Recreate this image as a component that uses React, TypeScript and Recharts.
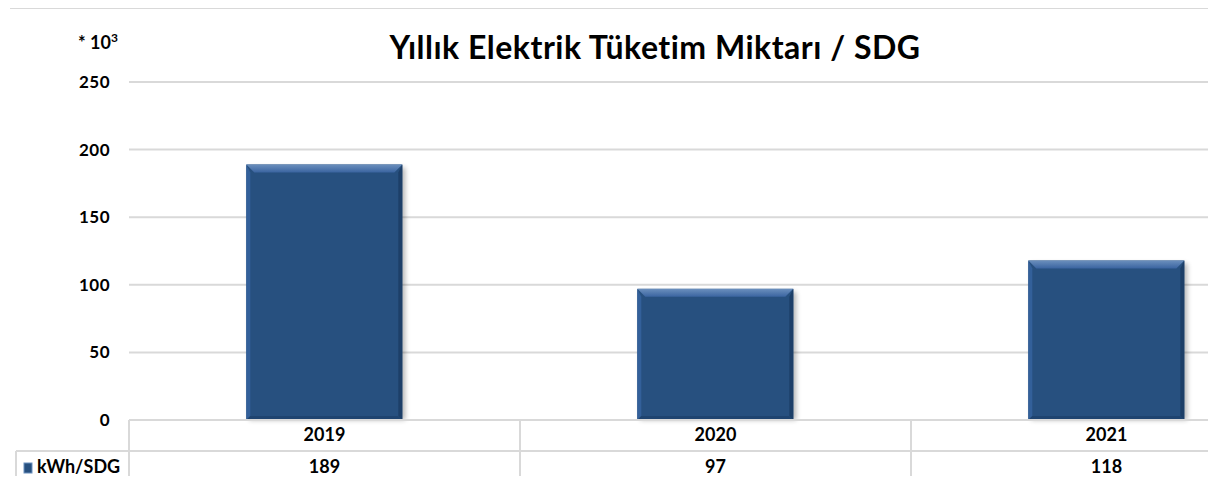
import React from 'react';
import { BarChart, Bar, XAxis, YAxis, CartesianGrid } from 'recharts';

// yearly electricity use, in thousands of kWh per SDG
const years = ['2019', '2020', '2021'];
const kwhPerSdg = [189, 97, 118];
const yTicks = [0, 50, 100, 150, 200, 250];
const seriesName = 'kWh/SDG';
const title = 'Yıllık Elektrik Tüketim Miktarı / SDG';

const data = years.map((year, i) => ({ year, value: kwhPerSdg[i] }));

const LINE = '#d9d9d9';
const FONT = 'Lato, "Open Sans", sans-serif';

const BevelBar = (props: any) => {
  const { x, y, width: w, height: h } = props;
  if (!h || h <= 0) return null;
  const b = Math.min(8, h / 4);
  const s = Math.min(4, h / 6);
  return (
    <g>
      <defs>
        <filter id="barShadow" x="-10%" y="-10%" width="130%" height="130%">
          <feGaussianBlur stdDeviation="2.5" />
        </filter>
        <linearGradient id="bevelTop" x1="0" y1="0" x2="0" y2="1">
          <stop offset="0%" stopColor="#6b8fbd" />
          <stop offset="100%" stopColor="#3a64a0" />
        </linearGradient>
      </defs>
      <rect x={x + 3} y={y + 3} width={w} height={h - 3} fill="#000" opacity={0.28} filter="url(#barShadow)" />
      <rect x={x} y={y} width={w} height={h} fill="#27507f" />
      <polygon points={`${x},${y} ${x + w},${y} ${x + w - b},${y + b} ${x + b},${y + b}`} fill="url(#bevelTop)" />
      <polygon points={`${x},${y} ${x + s},${y + b} ${x + s},${y + h - s} ${x},${y + h}`} fill="#33609a" />
      <polygon points={`${x + w},${y} ${x + w},${y + h} ${x + w - s},${y + h - s} ${x + w - s},${y + b}`} fill="#1d3f68" />
      <polygon points={`${x},${y + h} ${x + s},${y + h - s} ${x + w - s},${y + h - s} ${x + w},${y + h}`} fill="#1f4470" />
    </g>
  );
};

const TableTick = (props: any) => {
  const { x, y, payload, index } = props;
  const half = payload && payload.offset ? payload.offset : 195;
  const top = y;
  const mid = top + 31;
  const bottom = top + 61;
  const left = x - half;
  const right = x + half;
  const txt = { fontFamily: FONT, fontSize: 18, fontWeight: 700, fill: '#000', textAnchor: 'middle' as const };
  return (
    <g>
      <line x1={left} y1={top} x2={right} y2={top} stroke={LINE} strokeWidth={2} />
      <line x1={left} y1={mid} x2={right} y2={mid} stroke={LINE} strokeWidth={2} />
      <line x1={left} y1={bottom} x2={right} y2={bottom} stroke={LINE} strokeWidth={2} />
      <line x1={left} y1={top} x2={left} y2={bottom} stroke={LINE} strokeWidth={2} />
      <line x1={right} y1={top} x2={right} y2={bottom} stroke={LINE} strokeWidth={2} />
      <text x={x} y={top + 21} {...txt}>{payload.value}</text>
      <text x={x} y={mid + 22} {...txt}>{kwhPerSdg[index]}</text>
      {index === 0 && (
        <g>
          <line x1={16} y1={mid} x2={left} y2={mid} stroke={LINE} strokeWidth={2} />
          <line x1={16} y1={bottom} x2={left} y2={bottom} stroke={LINE} strokeWidth={2} />
          <line x1={16} y1={mid} x2={16} y2={bottom} stroke={LINE} strokeWidth={2} />
          <rect x={24} y={mid + 12} width={8} height={10} fill="#27507f" stroke="#6b8fbd" strokeWidth={1} />
          <text x={37} y={mid + 22} fontFamily={FONT} fontSize={18} fontWeight={700} fill="#000">{seriesName}</text>
        </g>
      )}
    </g>
  );
};

export default function App() {
  return (
    <div style={{ position: 'relative', width: 1216, height: 484, margin: -8, overflow: 'hidden', background: '#fff', fontFamily: FONT }}>
      <svg width={1216} height={80} style={{ position: 'absolute', left: 0, top: 0 }}>
        <line x1={10} y1={8} x2={1216} y2={8} stroke={LINE} strokeWidth={2} />
        <text x={78} y={49} fontFamily={FONT} fontSize={18} fontWeight={700} fill="#000">
          * 10<tspan fontSize={12} dy={-7}>3</tspan>
        </text>
        <text x={655} y={59} textAnchor="middle" fontFamily={FONT} fontSize={32} fontWeight={700} letterSpacing={0.5} fill="#000">
          {title}
        </text>
      </svg>
      <div style={{ position: 'absolute', left: 0, top: 0 }}>
        <BarChart width={1320} height={484} data={data} margin={{ top: 82, right: 18, left: 0, bottom: 2 }} barCategoryGap="30%">
          <CartesianGrid vertical={false} stroke={LINE} strokeWidth={2} />
          <XAxis
            dataKey="year"
            height={62}
            axisLine={false}
            tickLine={false}
            tickSize={0}
            tickMargin={0}
            interval={0}
            tick={<TableTick />}
          />
          <YAxis
            width={129}
            domain={[0, 250]}
            ticks={yTicks}
            axisLine={false}
            tickLine={false}
            tickSize={0}
            tickMargin={19}
            tick={{ fontFamily: FONT, fontSize: 17, fontWeight: 700, fill: '#000', letterSpacing: 0.5 }}
          />
          <Bar dataKey="value" name={seriesName} shape={<BevelBar />} isAnimationActive={false} />
        </BarChart>
      </div>
    </div>
  );
}
